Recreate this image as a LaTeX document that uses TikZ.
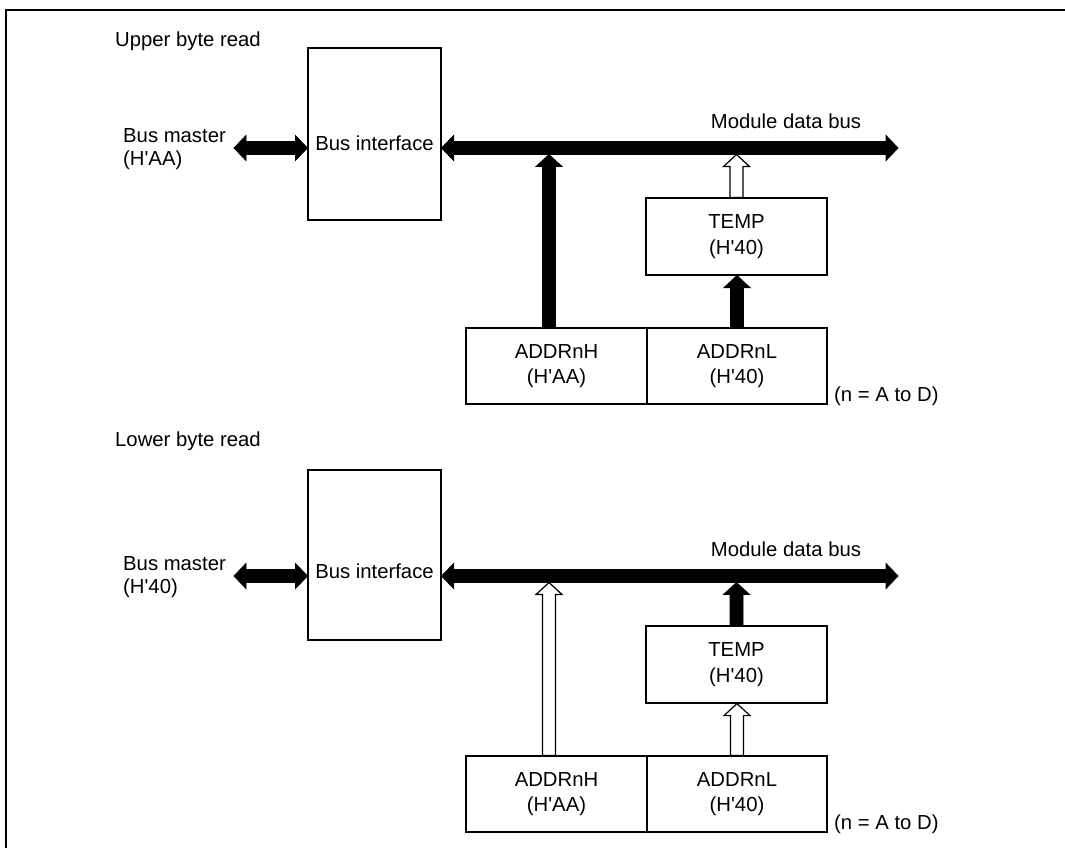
\documentclass[tikz,border=0pt]{standalone}
\usepackage{fontspec}
\newfontfamily\plainsans{Liberation Sans}
\usetikzlibrary{calc}
\tikzset{
  box/.style={draw, line width=1.2pt, inner sep=0pt},
  lbl/.style={font=\plainsans\fontsize{20.3}{23.5}\selectfont, inner sep=0pt},
  boxlbl/.style={font=\plainsans\fontsize{20.3}{25.5}\selectfont, align=center},
  fatblack/.style={fill=black, draw=black, line width=0.8pt, line join=miter},
  fatwhite/.style={fill=white, draw=black, line width=1.2pt, line join=miter},
  frame/.style={line width=2pt},
}
% vertical (upward) fat arrow: style, base, tip
\newcommand\vfat[3]{\draw[#1] let \p1=(#2), \p2=(#3) in
  (\x1-6.5pt,\y1) -- (\x1-6.5pt,\y2-12pt) -- (\x1-13pt,\y2-12pt) -- (\x1,\y2)
  -- (\x1+13pt,\y2-12pt) -- (\x1+6.5pt,\y2-12pt) -- (\x1+6.5pt,\y1) -- cycle;}
% horizontal double-headed fat arrow: style, left tip, right tip
\newcommand\hfat[3]{\draw[#1] let \p1=(#2), \p2=(#3) in
  (\x1,\y1) -- (\x1+12pt,\y1+12.5pt) -- (\x1+12pt,\y1+6.5pt) -- (\x2-12pt,\y1+6.5pt)
  -- (\x2-12pt,\y1+12.5pt) -- (\x2,\y1) -- (\x2-12pt,\y1-12.5pt) -- (\x2-12pt,\y1-6.5pt)
  -- (\x1+12pt,\y1-6.5pt) -- (\x1+12pt,\y1-12.5pt) -- cycle;}
% panel: prefix, y offset, bus master value, style H->bus, style TEMP->bus, style L->TEMP,
%        bus-interface box centre y, box height
\newcommand\panel[8]{%
\begin{scope}[shift={(0,#2)}]
  \node[box, minimum width=133pt, minimum height=#8pt] (#1bi) at (374.5,#7) {};
  \node[lbl] (#1bitxt) at (374.5,143) {Bus interface};
  \node[lbl, anchor=west, align=left] (#1bm) at (123,149) {Bus master\\(#3)};
  \coordinate (#1bml) at (234,148);
  \coordinate (#1busr) at (898,148);
  \coordinate (#1busb) at (898,154.5);
  \node[lbl] (#1mdb) at (786,121) {Module data bus};
  \node[box, boxlbl, minimum width=181pt, minimum height=77pt] (#1temp) at (736.5,236.5) {TEMP\\(H'40)};
  \node[box, boxlbl, minimum width=181pt, minimum height=76pt] (#1addrH) at (556.5,366) {ADDRnH\\(H'AA)};
  \node[box, boxlbl, minimum width=180pt, minimum height=76pt] (#1addrL) at (737,366) {ADDRnL\\(H'40)};
  \node[lbl, anchor=west] (#1note) at (834,396) {(n = A to D)};
  \coordinate (#1ha) at ([xshift=-7.5pt]#1addrH.north);
  \hfat{fatblack}{#1bml}{#1bi.west |- #1bml}
  \hfat{fatblack}{#1bi.east |- #1busr}{#1busr}
  \vfat{#4}{#1ha}{#1ha |- #1busb}
  \vfat{#5}{#1temp.north}{#1temp.north |- #1busb}
  \vfat{#6}{#1addrL.north}{#1addrL.north |- #1temp.south}
\end{scope}}
\begin{document}
\begin{tikzpicture}[x=1pt,y=-1pt]
\useasboundingbox (0,0) rectangle (1065,848);
\coordinate (ftr) at (1065,10);
\coordinate (ftl) at (6,10);
\coordinate (fbl) at (6,848);
\draw[frame] (ftr) -- (ftl) -- (fbl);
\node[lbl, anchor=west] (t1) at (115,41) {Upper byte read};
\node[lbl, anchor=west] (t2) at (115,441) {Lower byte read};
\panel{u}{0}{H'AA}{fatblack}{fatwhite}{fatblack}{134}{172}
\panel{l}{428}{H'40}{fatwhite}{fatblack}{fatwhite}{127}{170}
\end{tikzpicture}
\end{document}
